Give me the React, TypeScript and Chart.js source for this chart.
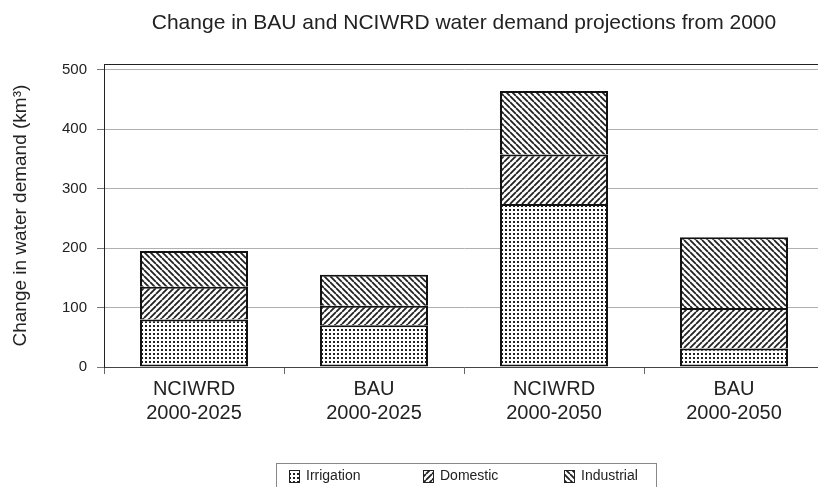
import React, { useEffect, useRef } from 'react';
import { Chart, registerables } from 'chart.js';

Chart.register(...registerables);

// ---- data ----
const scenarios = ['NCIWRD', 'BAU', 'NCIWRD', 'BAU'];
const periods = ['2000-2025', '2000-2025', '2000-2050', '2000-2050'];
const irrigation = [80, 70, 274, 31];
const domestic = [55, 33, 83, 68];
const industrial = [60, 52, 107, 119];
const yTicks = [0, 100, 200, 300, 400, 500];
const seriesNames = ['Irrigation', 'Domestic', 'Industrial'];
const titleText = 'Change in BAU and NCIWRD water demand projections from 2000';
const yTitleText = 'Change in water demand (km³)';

const FONT = '"Liberation Sans", Arial, Helvetica, sans-serif';
const INK = '#222';

type Kind = 'dots' | 'fwd' | 'back';

function makePattern(kind: Kind): CanvasPattern {
  const s = kind === 'dots' ? 4 : 6;
  const c = document.createElement('canvas');
  c.width = s;
  c.height = s;
  const g = c.getContext('2d')!;
  g.fillStyle = '#fff';
  g.fillRect(0, 0, s, s);
  g.fillStyle = INK;
  g.strokeStyle = INK;
  if (kind === 'dots') {
    g.fillRect(1, 1, 2, 2);
  } else {
    g.lineWidth = 1.8;
    g.beginPath();
    for (const o of [-s, 0, s]) {
      if (kind === 'fwd') {
        g.moveTo(o, s);
        g.lineTo(o + s, 0);
      } else {
        g.moveTo(o, 0);
        g.lineTo(o + s, s);
      }
    }
    g.stroke();
  }
  return g.createPattern(c, 'repeat')!;
}

export default function App() {
  const ref = useRef<HTMLCanvasElement | null>(null);

  useEffect(() => {
    document.body.style.overflow = 'hidden';
    const canvas = ref.current;
    if (!canvas) return;
    const pats = [makePattern('dots'), makePattern('fwd'), makePattern('back')];

    const framePlugin = {
      id: 'frameAndLegend',
      beforeDatasetsDraw(chart: any) {
        const { ctx, chartArea } = chart;
        ctx.save();
        ctx.strokeStyle = INK;
        ctx.lineWidth = 1;
        ctx.beginPath();
        const y = Math.round(chartArea.top) + 0.5;
        ctx.moveTo(chartArea.left, y);
        ctx.lineTo(chartArea.right, y);
        ctx.moveTo(Math.round(chartArea.right) - 0.5, chartArea.top);
        ctx.lineTo(Math.round(chartArea.right) - 0.5, chartArea.bottom);
        ctx.stroke();
        ctx.restore();
      },
      afterDraw(chart: any) {
        const { ctx, chartArea } = chart;
        const cx = (chartArea.left + chartArea.right) / 2;
        const boxLeft = Math.round(cx - 188) + 0.5;
        const boxTop = chart.height - 23.5;
        ctx.save();
        ctx.strokeStyle = '#888';
        ctx.lineWidth = 1;
        ctx.strokeRect(boxLeft, boxTop, 380, 40);
        const swatchOffsets = [12, 146, 287];
        ctx.font = `14px ${FONT}`;
        ctx.textBaseline = 'middle';
        ctx.textAlign = 'left';
        seriesNames.forEach((name, i) => {
          const sx = Math.round(boxLeft + swatchOffsets[i]);
          const sy = Math.round(boxTop + 6);
          ctx.fillStyle = pats[i];
          ctx.fillRect(sx, sy, 10, 12);
          ctx.strokeStyle = INK;
          ctx.strokeRect(sx + 0.5, sy + 0.5, 10, 12);
          ctx.fillStyle = INK;
          ctx.fillText(name, sx + 17, sy + 6.5);
        });
        ctx.restore();
      },
    };

    const seriesData = [irrigation, domestic, industrial];
    const borders = [
      { top: 2, bottom: 2, left: 2, right: 2 },
      { top: 2, bottom: 0, left: 2, right: 2 },
      { top: 2, bottom: 0, left: 2, right: 2 },
    ];

    const chart = new Chart(canvas, {
      type: 'bar',
      data: {
        labels: scenarios.map((s, i) => [s, periods[i]]),
        datasets: seriesNames.map((name, i) => ({
          label: name,
          data: seriesData[i],
          backgroundColor: pats[i],
          borderColor: '#111',
          borderWidth: borders[i],
          borderSkipped: false,
          categoryPercentage: 1,
          barPercentage: 0.6,
        })),
      },
      options: {
        animation: false,
        responsive: true,
        maintainAspectRatio: false,
        layout: { padding: { left: 0, right: 2, top: 0, bottom: 0 } },
        plugins: {
          legend: { display: false },
          tooltip: { enabled: false },
          title: {
            display: true,
            text: titleText,
            fullSize: false,
            color: INK,
            font: { size: 21, family: FONT, weight: 'normal' },
            padding: { top: 11, bottom: 28 },
          },
        },
        scales: {
          x: {
            stacked: true,
            grid: {
              display: true,
              drawOnChartArea: false,
              drawTicks: true,
              tickLength: 7,
              color: '#666',
              offset: true,
            },
            border: { display: true, color: '#444' },
            ticks: {
              color: INK,
              font: { size: 20, family: FONT, lineHeight: 1.2 },
              padding: 3,
              maxRotation: 0,
              autoSkip: false,
            },
            afterFit: (s: any) => {
              s.height = 120;
            },
          },
          y: {
            stacked: true,
            min: 0,
            max: 509,
            ticks: {
              stepSize: 100,
              color: INK,
              font: { size: 15, family: FONT },
              padding: 10,
            },
            afterBuildTicks: (s: any) => {
              s.ticks = yTicks.map((v) => ({ value: v }));
            },
            grid: { color: '#b0b0b0', tickLength: 7, tickColor: '#777' },
            border: { color: INK },
            title: {
              display: true,
              text: yTitleText,
              color: INK,
              font: { size: 19, family: FONT },
              padding: { top: 9, bottom: 0 },
            },
            afterFit: (s: any) => {
              s.width = 104;
            },
          },
        },
      },
      plugins: [framePlugin],
    } as any);

    return () => chart.destroy();
  }, []);

  return (
    <div style={{ position: 'fixed', left: 0, top: 0, width: 826, height: 487 }}>
      <canvas ref={ref} />
    </div>
  );
}
